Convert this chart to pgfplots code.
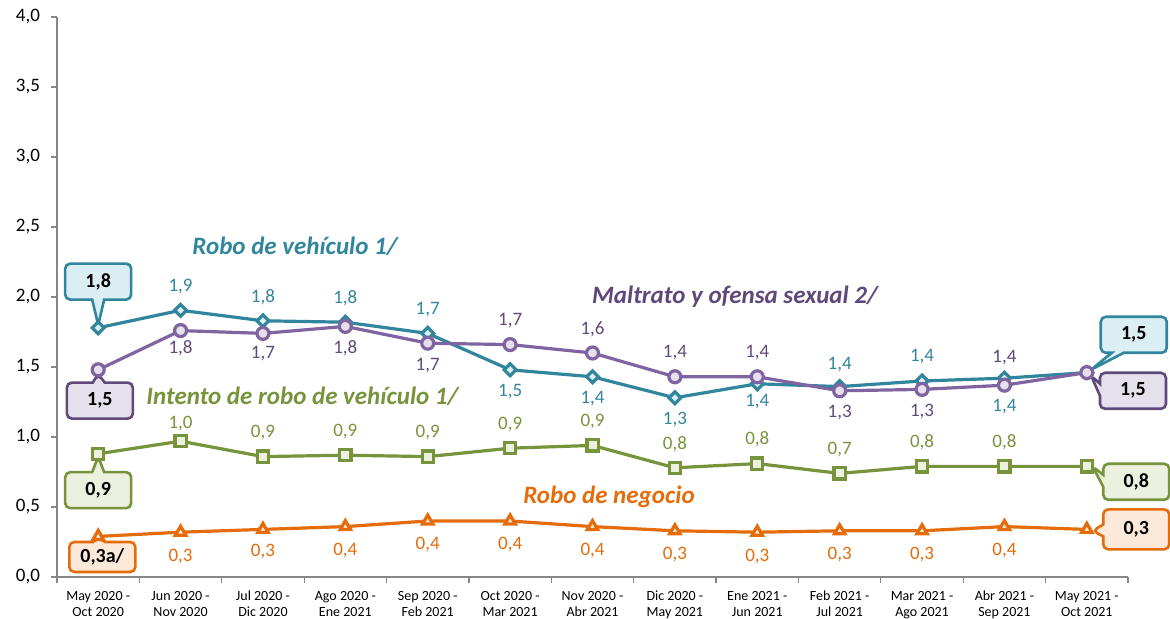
\documentclass[border=0pt]{standalone}
\usepackage{fontspec}
\setmainfont{Carlito}
\usepackage{pgfplots}
\usepackage{pgfplotstable}
\pgfplotsset{compat=1.18}
\usetikzlibrary{shapes.callouts}

\definecolor{teal1}{HTML}{31859C}
\definecolor{teal2}{HTML}{DAEEF3}
\definecolor{purp1}{HTML}{8064A2}
\definecolor{purp3}{HTML}{5F497A}
\definecolor{purp2}{HTML}{E5E0EC}
\definecolor{gren1}{HTML}{77933C}
\definecolor{gren2}{HTML}{EBF1DE}
\definecolor{orng1}{HTML}{E46C0A}
\definecolor{orng2}{HTML}{FDE9D9}
\definecolor{axgray}{HTML}{868686}

% robo de vehiculo
\pgfplotstableread{
x y lab dy
0 1.78 {} 0
1 1.905 {1,9} 12
2 1.83 {1,8} 12
3 1.82 {1,8} 12
4 1.74 {1,7} 12
5 1.48 {1,5} -11
6 1.43 {1,4} -11
7 1.28 {1,3} -11
8 1.38 {1,4} -9
9 1.36 {1,4} 11
10 1.40 {1,4} 12
11 1.42 {1,4} -14
12 1.46 {} 0
}\robo

% maltrato y ofensa sexual
\pgfplotstableread{
x y lab dy
0 1.48 {} 0
1 1.76 {1,8} -9
2 1.74 {1,7} -10
3 1.79 {1,8} -11
4 1.67 {1,7} -11
5 1.66 {1,7} 12
6 1.60 {1,6} 12
7 1.43 {1,4} 12
8 1.43 {1,4} 12
9 1.33 {1,3} -11
10 1.34 {1,3} -11
11 1.37 {1,4} 14
12 1.46 {} 0
}\maltrato

% intento de robo de vehiculo
\pgfplotstableread{
x y lab dy
0 0.88 {} 0
1 0.97 {1,0} 9
2 0.86 {0,9} 12
3 0.87 {0,9} 12
4 0.86 {0,9} 12
5 0.92 {0,9} 12
6 0.94 {0,9} 12
7 0.78 {0,8} 12
8 0.81 {0,8} 12
9 0.74 {0,7} 12
10 0.79 {0,8} 12
11 0.79 {0,8} 12
12 0.79 {} 0
}\intento

% robo de negocio
\pgfplotstableread{
x y lab dy
0 0.29 {} 0
1 0.32 {0,3} -12
2 0.34 {0,3} -11
3 0.36 {0,4} -12
4 0.40 {0,4} -12
5 0.40 {0,4} -12
6 0.36 {0,4} -12
7 0.33 {0,3} -12
8 0.32 {0,3} -12
9 0.33 {0,3} -12
10 0.33 {0,3} -12
11 0.36 {0,4} -12
12 0.34 {} 0
}\negocio

\begin{document}
\begin{tikzpicture}
\begin{axis}[
  scale only axis, width=535.5pt, height=280pt,
  xmin=-0.5, xmax=12.5, ymin=0, ymax=4,
  axis lines=left, axis line style={-, draw=axgray, line width=0.6pt},
  clip=false,
  xtick={0,...,12},
  xticklabels={{May 2020 -\\Oct 2020},{Jun 2020 -\\Nov 2020},{Jul 2020 -\\Dic 2020},{Ago 2020 -\\Ene 2021},{Sep 2020 -\\Feb 2021},{Oct 2020 -\\Mar 2021},{Nov 2020 -\\Abr 2021},{Dic 2020 -\\May 2021},{Ene 2021 -\\Jun 2021},{Feb 2021 -\\Jul 2021},{Mar 2021 -\\Ago 2021},{Abr 2021 -\\Sep 2021},{May 2021 -\\Oct 2021}},
  xticklabel style={align=center, font=\fontsize{7}{8}\selectfont, yshift=-0.5pt},
  major x tick style={draw=none},
  minor xtick={-0.5,0.5,...,12.5},
  minor x tick style={draw=axgray, line width=0.6pt},
  ytick={0,0.5,...,4},
  y tick style={draw=axgray, line width=0.6pt},
  tick align=outside, major tick length=3pt, minor tick length=3pt,
  yticklabel style={font=\fontsize{9.5}{11}\selectfont, xshift=-2pt},
  /pgf/number format/.cd, fixed, fixed zerofill, precision=1, use comma, assume math mode=true,
  /pgfplots/.cd,
  point meta=explicit symbolic,
  every axis plot/.append style={line width=1.6pt, mark options={line width=1pt, solid}},
]
\addplot[teal1, mark=square*, mark size=2.1pt, mark options={fill=teal2, rotate=45},
  nodes near coords, visualization depends on={\thisrow{dy} \as \dy},
  every node near coord/.append style={anchor=center, yshift=\dy pt, text=teal1, font=\fontsize{9.5}{10}\selectfont}]
  table[x=x, y=y, meta=lab] {\robo};
\addplot[purp1, mark=*, mark size=3pt, mark options={fill=purp2},
  nodes near coords, visualization depends on={\thisrow{dy} \as \dy},
  every node near coord/.append style={anchor=center, yshift=\dy pt, text=purp3, font=\fontsize{9.5}{10}\selectfont}]
  table[x=x, y=y, meta=lab] {\maltrato};
\addplot[gren1, mark=square*, mark size=2.8pt, mark options={fill=gren2},
  nodes near coords, visualization depends on={\thisrow{dy} \as \dy},
  every node near coord/.append style={anchor=center, yshift=\dy pt, text=gren1, font=\fontsize{9.5}{10}\selectfont}]
  table[x=x, y=y, meta=lab] {\intento};
\addplot[orng1, mark=triangle*, mark size=3pt, mark options={fill=orng2},
  nodes near coords, visualization depends on={\thisrow{dy} \as \dy},
  every node near coord/.append style={anchor=center, yshift=\dy pt, text=orng1, font=\fontsize{9.5}{10}\selectfont}]
  table[x=x, y=y, meta=lab] {\negocio};

% series names
\node[text=teal1, font=\bfseries\itshape\fontsize{12.5}{14}\selectfont] at (axis cs:2.39,2.36) {Robo de vehículo 1/};
\node[text=purp3, font=\bfseries\itshape\fontsize{12.5}{14}\selectfont] at (axis cs:7.73,2.0) {Maltrato y ofensa sexual 2/};
\node[text=gren1, font=\bfseries\itshape\fontsize{12.5}{14}\selectfont] at (axis cs:2.48,1.29) {Intento de robo de vehículo 1/};
\node[text=orng1, font=\bfseries\itshape\fontsize{12.5}{14}\selectfont] at (axis cs:6.2,0.573) {Robo de negocio};

% callouts
\tikzset{co/.style={rectangle callout, rounded corners=2.5pt, line width=1.3pt,
  minimum width=33pt, minimum height=18pt, inner sep=2pt, callout pointer width=6pt,
  font=\bfseries\fontsize{10}{12}\selectfont, text=black}}
\node[co, draw=teal1, fill=teal2, callout absolute pointer={(axis cs:0,1.80)}] at (axis cs:0,2.11) {1,8};
\node[co, draw=purp3, fill=purp2, callout absolute pointer={(axis cs:0,1.45)}] at (axis cs:0.02,1.26) {1,5};
\node[co, draw=gren1, fill=gren2, callout absolute pointer={(axis cs:0,0.86)}] at (axis cs:0,0.62) {0,9};
\node[co, draw=orng1, fill=orng2, minimum height=15pt, callout absolute pointer={(axis cs:0,0.28)}] at (axis cs:0.05,0.143) {0,3a/};
\node[co, draw=teal1, fill=teal2, callout absolute pointer={(axis cs:12.05,1.48)}] at (axis cs:12.57,1.73) {1,5};
\node[co, draw=purp3, fill=purp2, callout absolute pointer={(axis cs:12.05,1.44)}] at (axis cs:12.56,1.33) {1,5};
\node[co, draw=gren1, fill=gren2, callout absolute pointer={(axis cs:12.07,0.79)}] at (axis cs:12.6,0.68) {0,8};
\node[co, draw=orng1, fill=orng2, minimum height=20pt, callout absolute pointer={(axis cs:12.07,0.33)}] at (axis cs:12.6,0.34) {0,3};
\end{axis}
\pgfresetboundingbox
\path[use as bounding box] ([xshift=-28.5pt,yshift=-21pt]current axis.south west) rectangle ([xshift=21pt,yshift=8.5pt]current axis.north east);
\end{tikzpicture}
\end{document}
